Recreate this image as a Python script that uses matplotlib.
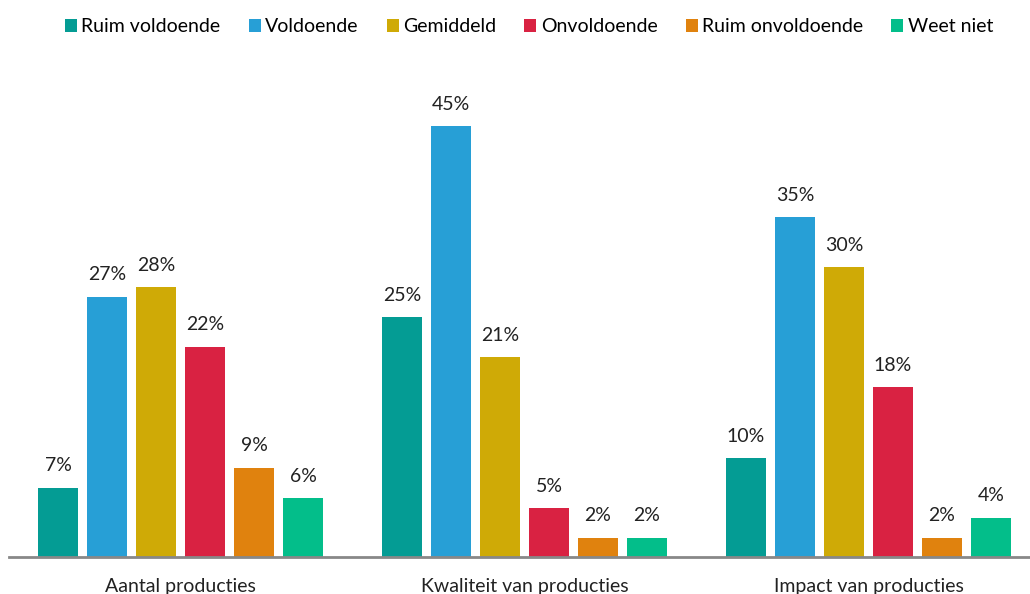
import matplotlib.pyplot as plt
import numpy as np
from matplotlib.patches import Patch

plt.rcParams['font.family'] = ['Lato', 'DejaVu Sans']

# data (bar heights, labels are rounded)
groups = ["Aantal producties", "Kwaliteit van producties", "Impact van producties"]
series = ["Ruim voldoende", "Voldoende", "Gemiddeld", "Onvoldoende", "Ruim onvoldoende", "Weet niet"]
ruim_voldoende = [7.2, 25.0, 10.3]
voldoende = [27.1, 44.9, 35.4]
gemiddeld = [28.1, 20.8, 30.2]
onvoldoende = [21.9, 5.1, 17.7]
ruim_onvoldoende = [9.3, 2.0, 2.0]
weet_niet = [6.1, 2.0, 4.1]
values = [ruim_voldoende, voldoende, gemiddeld, onvoldoende, ruim_onvoldoende, weet_niet]
colors = ["#049C94", "#279FD6", "#CFAA06", "#D92242", "#E0820E", "#03BE8A"]

W, H = 1030, 594
fig = plt.figure(figsize=(W / 100, H / 100), dpi=100)

# each group is ~344px wide starting at x=8.5, baseline at y=557
left, right = 8.5, 8.5 + 3 * 344
bottom, top = 557, 60
ax = fig.add_axes([left / W, 1 - bottom / H, (right - left) / W, (bottom - top) / H])

x = np.arange(len(groups))
step = 49 / 344
width = 40 / 344
for j, (name, vals, c) in enumerate(zip(series, values, colors)):
    pos = x + (j - 2.5) * step
    ax.bar(pos, vals, width=width, color=c, label=name)
    for p, v in zip(pos, vals):
        ax.text(p, v + 1.4, f"{v:.0f}%", ha='center', va='bottom', fontsize=14, color='#222222')

ax.set_xlim(-0.5, 2.5)
ax.set_ylim(0, (bottom - top) / 9.6)
ax.set_xticks(x)
ax.set_xticklabels(groups, fontsize=14, color='#222222')
ax.tick_params(axis='x', length=0, pad=15)
ax.set_yticks([])
for s in ['top', 'right', 'left']:
    ax.spines[s].set_visible(False)
ax.spines['bottom'].set_color('#888888')
ax.spines['bottom'].set_linewidth(2)

handles = [Patch(facecolor=c, label=n) for n, c in zip(series, colors)]
fig.legend(handles=handles, loc='center', bbox_to_anchor=(529 / W, 1 - 27 / H), ncol=6,
           frameon=False, fontsize=14, handlelength=0.62, handleheight=0.62,
           handletextpad=0.22, columnspacing=1.45, borderpad=0)

fig.savefig("out.png", dpi=100)
